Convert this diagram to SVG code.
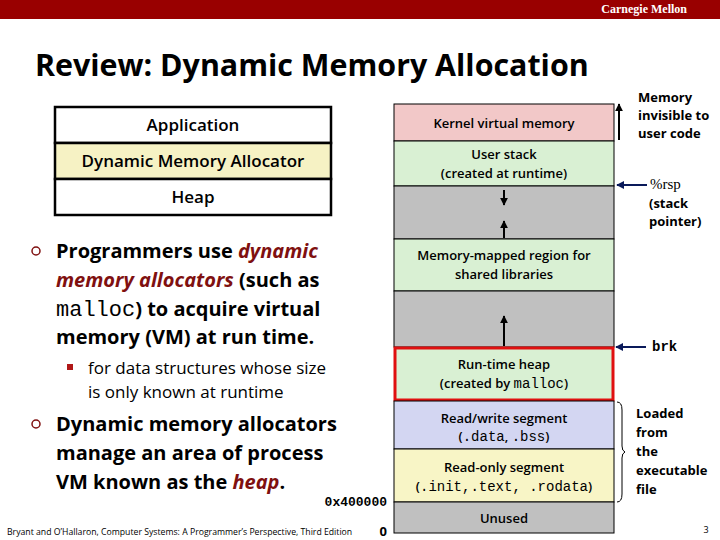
<svg xmlns="http://www.w3.org/2000/svg" width="720" height="540" viewBox="0 0 720 540">
<defs>
<style>
.s{font-family:"Open Sans","Noto Sans","DejaVu Sans",sans-serif}
.b{font-weight:bold}
.m{font-family:"Liberation Mono","DejaVu Sans Mono",monospace}
.box{stroke:#000;stroke-width:1}
.lbl{font-size:13px;text-anchor:middle;font-weight:600}
.big{font-size:20px;font-weight:bold}
.red{fill:#7f1010;font-style:italic}
.top{font-size:17px;font-weight:600;text-anchor:middle}
</style>
<marker id="ah" viewBox="0 0 10 10" refX="9" refY="5" markerWidth="4" markerHeight="4" orient="auto"><path d="M0,0L10,5L0,10z" fill="#000"/></marker>
<marker id="ahn" viewBox="0 0 10 10" refX="9" refY="5" markerWidth="4" markerHeight="4" orient="auto"><path d="M0,0L10,5L0,10z" fill="#0a1a5a"/></marker>
</defs>
<rect width="720" height="540" fill="#fff"/>
<rect x="0" y="0" width="720" height="19" fill="#990000"/>
<text x="687" y="13" font-family="Liberation Serif,serif" font-size="12" font-weight="bold" fill="#fff" text-anchor="end">Carnegie Mellon</text>
<text x="35" y="76" class="s b" font-size="30.4">Review: Dynamic Memory Allocation</text>

<g id="app"><rect x="55" y="107" width="276" height="36" fill="#fff" stroke="#000" stroke-width="2.5"/><text x="193" y="131" class="s top">Application</text></g>
<g id="dma"><rect x="55" y="143" width="276" height="36" fill="#f6f2c4" stroke="#000" stroke-width="2.5"/><text x="193" y="167" class="s top">Dynamic Memory Allocator</text></g>
<g id="heapbox"><rect x="55" y="179" width="276" height="36" fill="#fff" stroke="#000" stroke-width="2.5"/><text x="193" y="203" class="s top">Heap</text></g>

<g id="bullets" class="s">
<circle cx="36" cy="251" r="4" fill="none" stroke="#7f1010" stroke-width="1.5"/>
<text x="56" y="258" class="big">Programmers use <tspan class="red">dynamic</tspan></text>
<text x="56" y="287" class="big"><tspan class="red">memory allocators</tspan> (such as</text>
<text x="56" y="316" class="big"><tspan class="m" font-weight="normal" font-size="22">malloc</tspan>) to acquire virtual</text>
<text x="56" y="344" class="big">memory (VM) at run time.</text>
<rect x="67" y="364" width="6" height="6" fill="#b01818"/>
<text x="88" y="374" font-size="17">for data structures whose size</text>
<text x="88" y="398" font-size="17">is only known at runtime</text>
<circle cx="36" cy="424" r="4" fill="none" stroke="#7f1010" stroke-width="1.5"/>
<text x="56" y="431" class="big">Dynamic memory allocators</text>
<text x="56" y="460" class="big">manage an area of process</text>
<text x="56" y="489" class="big">VM known as the <tspan class="red">heap</tspan>.</text>
</g>

<g id="kernel"><rect x="394" y="104" width="220" height="37" fill="#f2c8c8" class="box"/><text x="504" y="128" class="s lbl">Kernel virtual memory</text></g>
<g id="ustack"><rect x="394" y="141" width="220" height="45" fill="#d9f0d3" class="box"/><text x="504" y="159" class="s lbl">User stack</text><text x="504" y="178" class="s lbl">(created at runtime)</text></g>
<g id="gap1"><rect x="394" y="186" width="220" height="53" fill="#c0c0c0" class="box"/></g>
<g id="mmap"><rect x="394" y="239" width="220" height="52" fill="#d9f0d3" class="box"/><text x="504" y="260" class="s lbl">Memory-mapped region for</text><text x="504" y="279" class="s lbl">shared libraries</text></g>
<g id="gap2"><rect x="394" y="291" width="220" height="56" fill="#c0c0c0" class="box"/></g>
<g id="rheap"><rect x="395" y="348" width="218" height="52" fill="#d9f0d3" stroke="#e01010" stroke-width="3"/><text x="504" y="369" class="s lbl">Run-time heap</text><text x="504" y="388" class="s lbl">(created by <tspan class="m" font-weight="normal" font-size="14">malloc</tspan>)</text></g>
<g id="rw"><rect x="394" y="401" width="220" height="48" fill="#d3d6f2" class="box"/><text x="504" y="423" class="s lbl">Read/write segment</text><text x="504" y="441" class="s lbl">(<tspan class="m" font-weight="normal" font-size="14">.data</tspan>, <tspan class="m" font-weight="normal" font-size="14">.bss</tspan>)</text></g>
<g id="ro"><rect x="394" y="449" width="220" height="53" fill="#f8f5c6" class="box"/><text x="504" y="472" class="s lbl">Read-only segment</text><text x="504" y="491" class="s lbl">(<tspan class="m" font-weight="normal" font-size="14">.init,.text, .rodata</tspan>)</text></g>
<g id="unused"><rect x="394" y="502" width="220" height="31" fill="#c0c0c0" class="box"/><text x="504" y="523" class="s lbl">Unused</text></g>

<g id="connectors" stroke-width="2" fill="none">
<line x1="504" y1="190" x2="504" y2="205" stroke="#000" marker-end="url(#ah)"/>
<line x1="504" y1="238" x2="504" y2="221" stroke="#000" marker-end="url(#ah)"/>
<line x1="504" y1="346" x2="504" y2="316" stroke="#000" marker-end="url(#ah)"/>
<line x1="619" y1="140" x2="619" y2="104" stroke="#000" marker-end="url(#ah)"/>
<line x1="647" y1="185" x2="617" y2="185" stroke="#0a1a5a" marker-end="url(#ahn)"/>
<line x1="646" y1="347" x2="616" y2="347" stroke="#0a1a5a" marker-end="url(#ahn)"/>
<path d="M617,402 Q622,402 622,410 L622,446 Q622,451 625,452 Q622,453 622,458 L622,494 Q622,502 617,502" stroke="#000" stroke-width="1"/>
</g>

<g id="notes" class="s b" font-size="13">
<text x="638" y="102">Memory</text>
<text x="638" y="120">invisible to</text>
<text x="638" y="138">user code</text>
<text x="650" y="189" font-family="Liberation Serif,serif" font-weight="normal" font-size="15">%rsp</text>
<text x="649" y="208">(stack</text>
<text x="649" y="226">pointer)</text>
<text x="652" y="351" class="m" font-size="14">brk</text>
<text x="636" y="418">Loaded</text>
<text x="636" y="437">from</text>
<text x="636" y="456">the</text>
<text x="636" y="475">executable</text>
<text x="636" y="494">file</text>
</g>
<text x="387" y="506" class="m b" font-size="13" text-anchor="end">0x400000</text>
<text x="387" y="536" class="s b" font-size="13" text-anchor="end">0</text>
<text x="7" y="535" class="s" font-size="8.7">Bryant and O’Hallaron, Computer Systems: A Programmer’s Perspective, Third Edition</text>
<text x="706" y="533" class="s" font-size="9" text-anchor="middle">3</text>
</svg>
